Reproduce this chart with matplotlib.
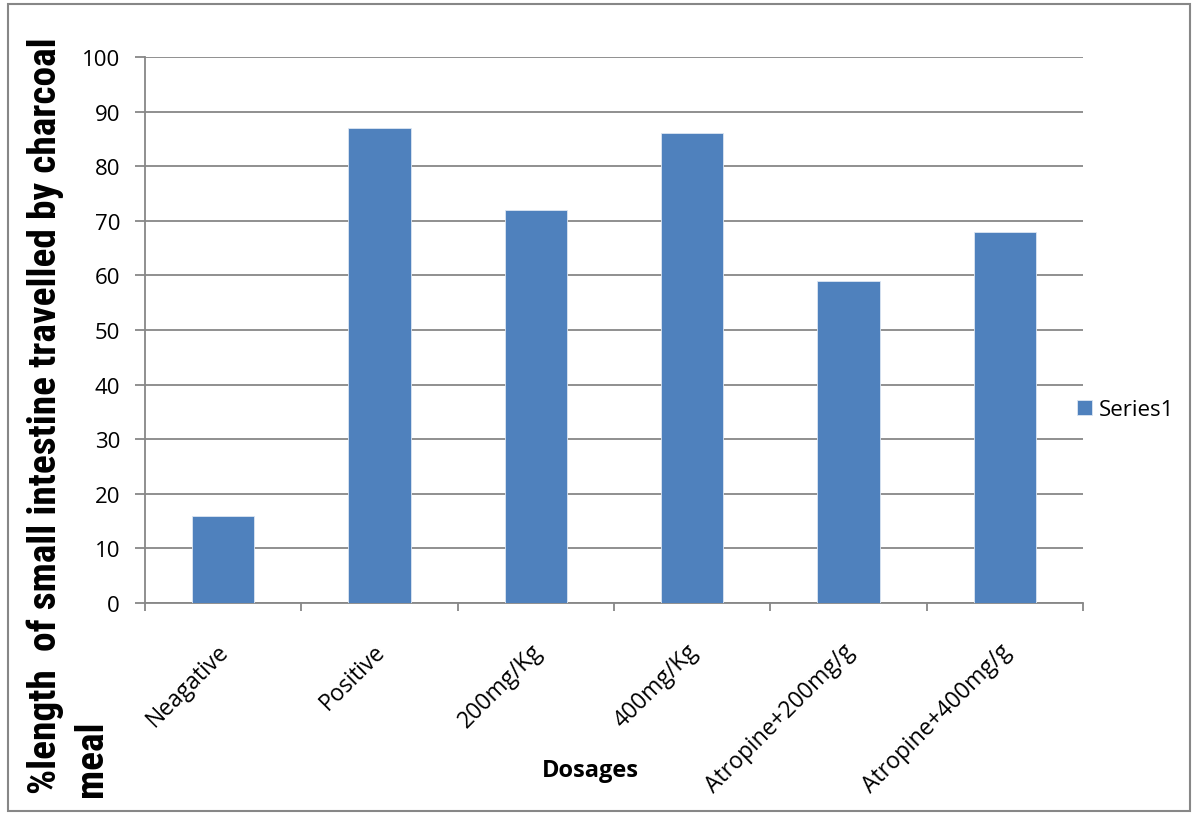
import matplotlib
matplotlib.use("Agg")
import matplotlib.pyplot as plt
import numpy as np
from matplotlib.patches import Rectangle
from matplotlib import font_manager
from matplotlib.transforms import ScaledTranslation

categories = ["Neagative", "Positive", "200mg/Kg", "400mg/Kg", "Atropine+200mg/g", "Atropine+400mg/g"]
values = [16, 87, 72, 86, 59, 68]
yticks = [0, 10, 20, 30, 40, 50, 60, 70, 80, 90, 100]
series_name = "Series1"
x_title = "Dosages"
y_title_line1 = "%length  of small intestine travelled by charcoal"
y_title_line2 = "meal"

available = {f.name for f in font_manager.fontManager.ttflist}
cond = None
for cand in ["Liberation Sans Narrow", "DejaVu Sans Condensed", "Roboto Condensed", "Open Sans Condensed", "Open Sans"]:
    if cand in available:
        cond = cand
        break

W, H = 1197, 820
fig = plt.figure(figsize=(W/100, H/100), dpi=100)
fig.patch.set_facecolor("white")
ax = fig.add_axes([145/W, 1-604/H, (1083-145)/W, (604-58)/H])

GRAY = "#878787"
x = np.arange(len(categories))
ax.bar(x, values, width=0.4, color="#4F81BD", edgecolor="#DCE6F2", linewidth=0.6, zorder=3, label=series_name)
ax.set_xlim(-0.5, len(categories)-0.5)
ax.set_ylim(0, 100)
ax.set_yticks(yticks)
ax.set_yticklabels([str(v) for v in yticks], fontsize=16, family="Open Sans")
ax.yaxis.grid(True, color=GRAY, linewidth=1.3, zorder=0)
ax.set_axisbelow(True)

ax.set_xticks(np.arange(-0.5, len(categories), 1.0))
ax.set_xticklabels([])
ax.set_xticks(x, minor=True)
ax.set_xticklabels(categories, minor=True, rotation=45, ha="right", va="top",
                   rotation_mode="anchor", fontsize=16.5, family="Open Sans")
ax.tick_params(axis="x", which="minor", length=0, pad=26)
ax.tick_params(axis="x", which="major", length=6, color=GRAY, width=1.3)
ax.tick_params(axis="y", length=7, color=GRAY, width=1.3, pad=11)
offset = ScaledTranslation(-6/100, 0, fig.dpi_scale_trans)
for lbl in ax.xaxis.get_minorticklabels():
    lbl.set_transform(lbl.get_transform() + offset)

for s in ["top", "right"]:
    ax.spines[s].set_visible(False)
for s in ["left", "bottom"]:
    ax.spines[s].set_color(GRAY)
    ax.spines[s].set_linewidth(1.3)

fig.text(590/W, 1-771/H, x_title, fontsize=17, fontweight="bold", family="Open Sans",
         ha="center", va="center")
ylab = fig.text(45/W, 1-416/H, y_title_line1, fontsize=20,
                fontweight="bold", family=[cond, "DejaVu Sans"], rotation=90,
                ha="center", va="center")
fig.canvas.draw()
bb = ylab.get_window_extent(fig.canvas.get_renderer())
fs = 20 * 755 / bb.height
ylab.set_fontsize(fs)
fig.text(92/W, 1-797/H, y_title_line2, fontsize=fs, fontweight="bold",
         family=[cond, "DejaVu Sans"], rotation=90, ha="center", va="bottom")

leg = ax.legend(loc="center left", bbox_to_anchor=(1066/W, 1-411/H), bbox_transform=fig.transFigure,
                frameon=False, prop={"family": "Open Sans", "size": 16},
                handlelength=0.68, handleheight=0.68, handletextpad=0.3, borderpad=0)

fig.patches.append(Rectangle((8/W, 1-812/H), (1190-8)/W, (812-5)/H, transform=fig.transFigure,
                             fill=False, edgecolor=GRAY, linewidth=1.5))

fig.savefig("out.png", dpi=100)
